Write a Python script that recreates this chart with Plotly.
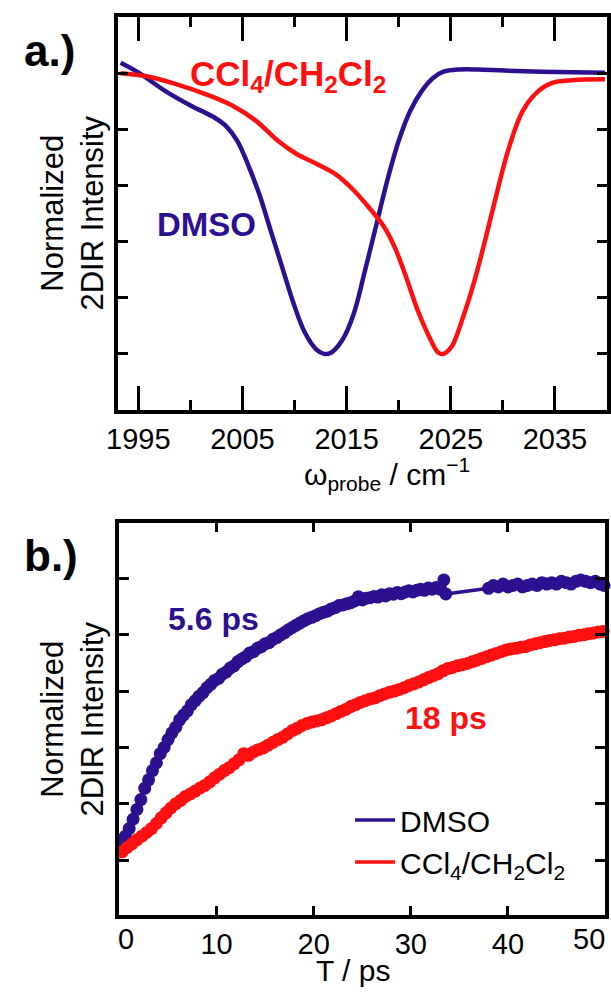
import plotly.graph_objects as go

# ---------------- data: panel a (spectra) ----------------
wn_dmso = [1993.3, 1995.1, 1997.6, 2000.1, 2002.3, 2003.4, 2004.5, 2005.5, 2006.6, 2007.7,
           2008.8, 2009.9, 2011.0, 2012.1, 2012.8, 2013.5, 2014.6, 2015.7, 2016.7, 2017.8,
           2018.9, 2020.0, 2021.1, 2022.2, 2023.3, 2024.3, 2025.8, 2027.6, 2030.1, 2033.7, 2039.8]
int_dmso = [0.037, 0.0, -0.064, -0.117, -0.158, -0.188, -0.241, -0.323, -0.43, -0.56,
            -0.69, -0.82, -0.925, -0.985, -1.0, -0.996, -0.95, -0.855, -0.713, -0.548,
            -0.383, -0.241, -0.135, -0.064, -0.017, 0.005, 0.013, 0.013, 0.009, 0.005, 0.001]

wn_ccl = [1993.3, 1995.8, 1998.7, 2001.9, 2004.1, 2006.3, 2008.4, 2010.2, 2012.1, 2013.9,
          2015.7, 2017.1, 2018.6, 2019.6, 2020.7, 2021.8, 2022.9, 2023.8, 2024.3, 2025.1,
          2026.1, 2027.2, 2028.3, 2029.4, 2030.5, 2031.9, 2033.4, 2034.8, 2036.6, 2039.8]
int_ccl = [0.0, -0.011, -0.04, -0.081, -0.117, -0.17, -0.241, -0.288, -0.323, -0.359,
           -0.418, -0.477, -0.548, -0.619, -0.725, -0.843, -0.937, -0.996, -1.0, -0.973,
           -0.878, -0.749, -0.595, -0.43, -0.276, -0.135, -0.064, -0.034, -0.025, -0.022]

# ---------------- data: panel b (kinetics) ----------------
t_dmso = [-0.2, 0.2, 0.6, 1.0, 1.4, 1.8, 2.2, 2.6, 3.0, 3.4, 3.8, 4.2, 4.6, 5.0, 5.4, 5.8,
          6.2, 6.6, 7.0, 7.4, 7.8, 8.2, 8.6, 9.0, 9.4, 9.8, 10.2, 10.6, 11.0, 11.4, 11.8,
          12.2, 12.6, 13.0, 13.4, 13.8, 14.2, 14.6, 15.0, 15.4, 15.8, 16.2, 16.6, 17.0,
          17.4, 17.8, 18.2, 18.6, 19.0, 19.4, 19.8, 20.2, 20.6, 21.0, 21.4, 21.8, 22.2,
          22.6, 23.0, 23.4, 23.8, 24.2, 24.6, 25.0, 25.4, 25.8, 26.2, 26.6, 27.0, 27.4,
          27.8, 28.2, 28.6, 29.0, 29.4, 29.8, 30.2, 30.6, 31.0, 31.4, 31.8, 32.2, 32.6,
          33.0, 33.4, 33.6,
          38.0, 38.5, 39.0, 39.5, 40.0, 40.5, 41.0, 41.5, 42.0, 42.5, 43.0, 43.5, 44.0,
          44.5, 45.0, 45.5, 46.0, 46.5, 47.0, 47.5, 48.0, 48.5, 49.0, 49.5, 49.9]
s_dmso = [0.050, 0.062, 0.085, 0.112, 0.145, 0.180, 0.215, 0.255, 0.285, 0.318, 0.345,
          0.378, 0.400, 0.428, 0.452, 0.472, 0.498, 0.515, 0.530, 0.552, 0.566, 0.582,
          0.595, 0.612, 0.624, 0.638, 0.645, 0.660, 0.668, 0.682, 0.690, 0.705, 0.714,
          0.722, 0.735, 0.740, 0.752, 0.758, 0.768, 0.772, 0.784, 0.790, 0.800, 0.808,
          0.818, 0.826, 0.834, 0.842, 0.850, 0.857, 0.862, 0.868, 0.875, 0.880, 0.884,
          0.892, 0.896, 0.904, 0.906, 0.910, 0.914, 0.920, 0.935, 0.924, 0.930, 0.932,
          0.936, 0.934, 0.942, 0.938, 0.946, 0.944, 0.950, 0.946, 0.952, 0.956, 0.952,
          0.958, 0.962, 0.958, 0.966, 0.962, 0.968, 0.962, 0.995, 0.945,
          0.965, 0.975, 0.970, 0.980, 0.970, 0.975, 0.980, 0.970, 0.975, 0.980, 0.975,
          0.985, 0.980, 0.985, 0.980, 0.990, 0.985, 0.980, 0.990, 0.995, 0.990, 0.985,
          0.990, 0.980, 0.975]

t_ccl = [-0.2, 0.3, 0.8, 1.3, 1.8, 2.3, 2.8, 3.3, 3.8, 4.3, 4.8, 5.3, 5.8, 6.3, 6.8, 7.3,
         7.8, 8.3, 8.8, 9.3, 9.8, 10.3, 10.8, 11.3, 11.8, 12.3, 12.8, 13.3, 13.8, 14.3,
         14.8, 15.3, 15.8, 16.3, 16.8, 17.3, 17.8, 18.3, 18.8, 19.3, 19.8, 20.3, 20.8,
         21.3, 21.8, 22.3, 22.8, 23.3, 23.8, 24.3, 24.8, 25.3, 25.8, 26.3, 26.8, 27.3,
         27.8, 28.3, 28.8, 29.3, 29.8, 30.3, 30.8, 31.3, 31.8, 32.3, 32.8, 33.3, 33.8,
         34.3, 34.8, 35.3, 35.8, 36.3, 36.8, 37.3, 37.8, 38.3, 38.8, 39.3, 39.8, 40.3,
         40.8, 41.3, 41.8, 42.3, 42.8, 43.3, 43.8, 44.3, 44.8, 45.3, 45.8, 46.3, 46.8,
         47.3, 47.8, 48.3, 48.8, 49.3, 49.8]
s_ccl = [0.000, 0.030, 0.045, 0.058, 0.072, 0.085, 0.098, 0.112, 0.130, 0.150, 0.168,
         0.185, 0.200, 0.212, 0.226, 0.235, 0.245, 0.256, 0.265, 0.278, 0.292, 0.305,
         0.318, 0.328, 0.342, 0.356, 0.378, 0.372, 0.384, 0.392, 0.398, 0.408, 0.418,
         0.428, 0.436, 0.448, 0.460, 0.468, 0.478, 0.485, 0.490, 0.494, 0.498, 0.505,
         0.512, 0.520, 0.528, 0.535, 0.545, 0.552, 0.560, 0.566, 0.572, 0.576, 0.584,
         0.590, 0.596, 0.600, 0.606, 0.612, 0.620, 0.626, 0.632, 0.640, 0.648, 0.655,
         0.662, 0.672, 0.680, 0.684, 0.690, 0.694, 0.698, 0.704, 0.710, 0.716, 0.722,
         0.728, 0.734, 0.740, 0.746, 0.750, 0.752, 0.756, 0.758, 0.764, 0.768, 0.772,
         0.776, 0.780, 0.782, 0.786, 0.788, 0.792, 0.794, 0.798, 0.800, 0.804, 0.806,
         0.810, 0.812]

xa_ticks = [1995, 2005, 2015, 2025, 2035]
xb_ticks = [10, 20, 30, 40]

BLUE = "#2c1090"
RED = "#ff1010"
FONT = "Liberation Sans, Arial, sans-serif"
W, H = 611, 994

def py(pix):
    return 1 - pix / H

def px(pix):
    return pix / W

fig = go.Figure()

# panel a
fig.add_trace(go.Scatter(x=wn_dmso, y=int_dmso, mode="lines", line=dict(color=BLUE, width=4.5, shape="spline"),
                         xaxis="x", yaxis="y", showlegend=False))
fig.add_trace(go.Scatter(x=wn_ccl, y=int_ccl, mode="lines", line=dict(color=RED, width=4.5, shape="spline"),
                         xaxis="x", yaxis="y", showlegend=False))

# panel b
fig.add_trace(go.Scatter(x=t_dmso, y=s_dmso, mode="lines", line=dict(color=BLUE, width=3.5),
                         xaxis="x2", yaxis="y2", name="DMSO", cliponaxis=False))
fig.add_trace(go.Scatter(x=t_dmso, y=s_dmso, mode="markers", marker=dict(color=BLUE, size=13),
                         xaxis="x2", yaxis="y2", showlegend=False, cliponaxis=False))
fig.add_trace(go.Scatter(x=t_ccl, y=s_ccl, mode="lines", line=dict(color=RED, width=3.5),
                         xaxis="x2", yaxis="y2", name="CCl<sub>4</sub>/CH<sub>2</sub>Cl<sub>2</sub>",
                         cliponaxis=False))
fig.add_trace(go.Scatter(x=t_ccl, y=s_ccl, mode="markers", marker=dict(color=RED, size=13),
                         xaxis="x2", yaxis="y2", showlegend=False, cliponaxis=False))

axis_common = dict(showline=True, linewidth=4, linecolor="black", mirror="allticks",
                   ticks="inside", tickwidth=3, tickcolor="black", showgrid=False,
                   zeroline=False, tickfont=dict(family=FONT, size=29, color="black"))

fig.update_layout(
    width=W, height=H, margin=dict(l=0, r=0, t=0, b=0),
    paper_bgcolor="white", plot_bgcolor="white",
    font=dict(family=FONT, color="black"),
    xaxis=dict(**axis_common, domain=[px(109), px(610)], range=[1993, 2040],
               tickvals=xa_ticks, ticklen=24,
               minor=dict(ticks="inside", ticklen=10, tickwidth=3, tickcolor="black", dtick=5, tick0=2000),
               anchor="y"),
    yaxis=dict(**axis_common, domain=[py(410), py(17)], range=[-1.2, 0.2], dtick=0.2, tick0=0,
               ticklen=10, showticklabels=False, anchor="x"),
    xaxis2=dict(**axis_common, domain=[px(111), px(608)], range=[0, 50],
                tickvals=xb_ticks, ticklen=9, anchor="y2"),
    yaxis2=dict(**axis_common, domain=[py(915), py(523)], range=[-0.195, 1.197], dtick=0.2, tick0=0,
                ticklen=10, showticklabels=False, anchor="x2"),
    legend=dict(x=px(347), y=py(794), xanchor="left", yanchor="top",
                font=dict(family=FONT, size=30, color="black"), bgcolor="rgba(0,0,0,0)",
                tracegroupgap=0, itemwidth=40),
)

ann = []
def add(text, x, y, size, color="black", bold=False, angle=0, xref="paper", yref="paper"):
    t = f"<b>{text}</b>" if bold else text
    ann.append(dict(text=t, x=x, y=y, xref=xref, yref=yref, showarrow=False,
                    xanchor="center", yanchor="middle", textangle=angle,
                    font=dict(family=FONT, size=size, color=color)))

add("a.)", px(39), py(50), 44, bold=True)
add("b.)", px(41), py(555), 44, bold=True)
add("CCl<sub>4</sub>/CH<sub>2</sub>Cl<sub>2</sub>", px(283), py(76), 35, color=RED, bold=True)
add("DMSO", px(200), py(224), 33, color=BLUE, bold=True)
add("5.6 ps", px(207), py(619), 32, color=BLUE, bold=True)
add("18 ps", px(445), py(718), 32, color=RED, bold=True)
add("Normalized<br>2DIR Intensity", px(62), py(213), 31, angle=-90)
add("Normalized<br>2DIR Intensity", px(62), py(719), 31, angle=-90)
add("ω<sub>probe</sub> / cm<sup>−1</sup>", px(385), py(474), 30)
add("T / ps", px(350), py(970), 30)
# end tick labels of panel b, pulled inside the frame as in the original
add("0", 0.7, py(939), 29, xref="x2")
add("50", 48.3, py(939), 29, xref="x2")
fig.update_layout(annotations=ann)

fig.write_html("out.html", config={"displayModeBar": False},
               post_script="document.body.style.margin='0';document.body.style.overflow='hidden';")
